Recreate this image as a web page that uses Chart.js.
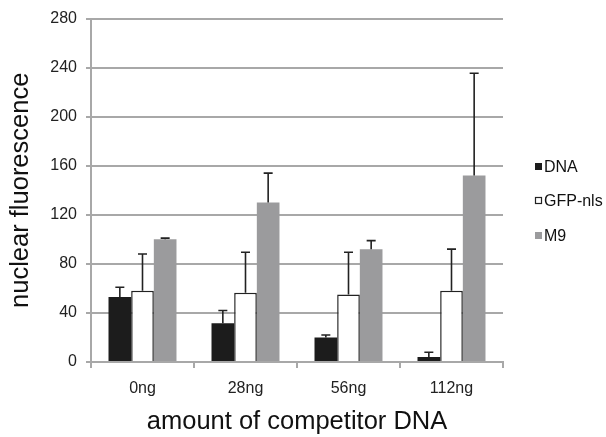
<!DOCTYPE html>
<html>
<head>
<meta charset="utf-8">
<script src="https://cdn.jsdelivr.net/npm/chart.js@4"></script>
<style>
html,body{margin:0;padding:0;background:#fff;}
#wrap{width:606px;height:437px;}
</style>
</head>
<body>
<div id="wrap"><canvas id="c" width="606" height="437"></canvas></div>
<script>
const categories = ['0ng', '28ng', '56ng', '112ng'];
const seriesNames = ['DNA', 'GFP-nls', 'M9'];
const dnaValues = [53, 31.5, 20, 4];
const gfpValues = [58, 56.5, 55, 58];
const m9Values = [100, 130, 92, 152];
const dnaErrTop = [61, 42, 22, 8];
const gfpErrTop = [88, 89.5, 89.5, 92];
const m9ErrTop = [101, 154, 99, 235.5];
const yTicks = [0, 40, 80, 120, 160, 200, 240, 280];

const FONT = "'Liberation Sans', Arial, sans-serif";
const errTops = [dnaErrTop, gfpErrTop, m9ErrTop];

const errorBars = {
  id: 'errorBars',
  afterDatasetsDraw(chart) {
    const ctx = chart.ctx;
    const y = chart.scales.y;
    ctx.save();
    ctx.strokeStyle = '#222';
    ctx.lineWidth = 1.6;
    chart.data.datasets.forEach((ds, di) => {
      const meta = chart.getDatasetMeta(di);
      meta.data.forEach((bar, i) => {
        const top = y.getPixelForValue(errTops[di][i]);
        const base = bar.y;
        ctx.beginPath();
        ctx.moveTo(bar.x, base);
        ctx.lineTo(bar.x, top);
        ctx.moveTo(bar.x - 4.5, top);
        ctx.lineTo(bar.x + 4.5, top);
        ctx.stroke();
      });
    });
    ctx.restore();
  }
};

const sideLegend = {
  id: 'sideLegend',
  afterDraw(chart) {
    const ctx = chart.ctx;
    const ys = [167, 201, 236];
    ctx.save();
    ctx.font = '16px ' + FONT;
    ctx.textBaseline = 'middle';
    ctx.textAlign = 'left';
    chart.data.datasets.forEach((ds, i) => {
      const yy = ys[i];
      ctx.fillStyle = ds.backgroundColor;
      ctx.fillRect(535, yy - 4, 7, 7);
      if (ds.borderWidth) {
        ctx.strokeStyle = ds.borderColor;
        ctx.lineWidth = 1.2;
        ctx.strokeRect(535.5, yy - 3.5, 6, 6);
      }
      ctx.fillStyle = '#111';
      ctx.fillText(seriesNames[i], 544, yy + 1);
    });
    ctx.restore();
  }
};

new Chart(document.getElementById('c'), {
  type: 'bar',
  data: {
    labels: categories,
    datasets: [
      { label: seriesNames[0], data: dnaValues, backgroundColor: '#1c1c1c', borderWidth: 0 },
      { label: seriesNames[1], data: gfpValues, backgroundColor: '#ffffff', borderColor: '#222', borderWidth: 1.5 },
      { label: seriesNames[2], data: m9Values, backgroundColor: '#9b9b9d', borderWidth: 0 }
    ]
  },
  options: {
    responsive: false,
    animation: false,
    devicePixelRatio: 1,
    layout: { padding: { left: 0, right: 103, top: 15, bottom: 0 } },
    plugins: { legend: { display: false }, tooltip: { enabled: false } },
    datasets: { bar: { barPercentage: 1, categoryPercentage: 0.66 } },
    scales: {
      x: {
        grid: { offset: true, drawOnChartArea: false, color: '#a8a8a8', lineWidth: 2, tickLength: 6 },
        border: { color: '#a8a8a8', width: 2 },
        ticks: { color: '#222', font: { family: FONT, size: 16 }, padding: 11 },
        title: { display: true, text: 'amount of competitor DNA', color: '#111', font: { family: FONT, size: 25.5 }, padding: { top: 4, bottom: 0 } },
        afterFit(s) { s.height = 75; }
      },
      y: {
        min: 0, max: 280,
        afterBuildTicks(s) { s.ticks = yTicks.map(v => ({ value: v })); },
        grid: { color: '#a8a8a8', lineWidth: 2, tickLength: 5 },
        border: { color: '#a8a8a8', width: 2 },
        ticks: { color: '#222', font: { family: FONT, size: 16 }, padding: 9 },
        title: { display: true, text: 'nuclear fluorescence', color: '#111', font: { family: FONT, size: 25.5 }, padding: { top: 6, bottom: 0 } },
        afterFit(s) { s.width = 91; }
      }
    }
  },
  plugins: [errorBars, sideLegend]
});
</script>
</body>
</html>
